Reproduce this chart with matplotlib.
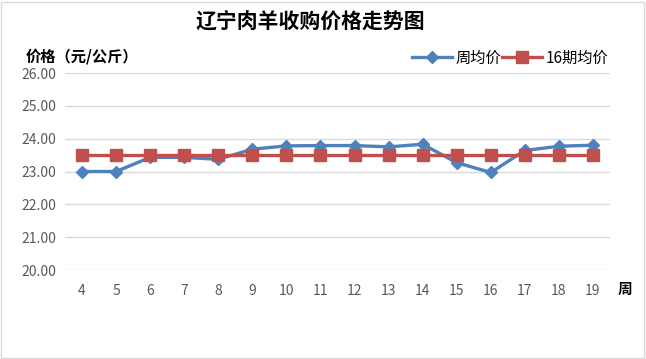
import matplotlib
matplotlib.use("Agg")
import matplotlib.pyplot as plt
from matplotlib.patches import Rectangle

plt.rcParams['font.family'] = ['Noto Sans CJK SC', 'DejaVu Sans']

# data
weeks = [4, 5, 6, 7, 8, 9, 10, 11, 12, 13, 14, 15, 16, 17, 18, 19]
weekly_avg = [23.00, 23.00, 23.43, 23.43, 23.37, 23.68, 23.78, 23.79, 23.79, 23.75,
              23.83, 23.27, 22.97, 23.64, 23.77, 23.80]
avg_16 = [23.51] * 16
yticks = [20, 21, 22, 23, 24, 25, 26]

BLUE = "#4F81BD"
RED = "#C0504D"
GREY = "#595959"

fig = plt.figure(figsize=(6.46, 3.59), dpi=100)
ax = fig.add_axes([65 / 646, 1 - 270 / 359, (610 - 65) / 646, (270 - 73) / 359])

xpos = list(range(len(weeks)))
ax.plot(xpos, weekly_avg, color=BLUE, lw=2.4, marker="D", ms=6.5,
        mfc=BLUE, mec=BLUE, label="周均价", zorder=3)
ax.plot(xpos, avg_16, color=RED, lw=2.4, marker="s", ms=8.5,
        mfc=RED, mec=RED, label="16期均价", zorder=4)

ax.set_xlim(-0.5, len(weeks) - 0.5)
ax.set_ylim(20, 26)
ax.set_yticks(yticks)
ax.set_yticklabels([f"{v:.2f}" for v in yticks])
ax.set_xticks(xpos)
ax.set_xticklabels([str(w) for w in weeks])
ax.tick_params(axis="both", length=0, labelsize=10, colors=GREY)
ax.tick_params(axis="x", pad=10)
ax.tick_params(axis="y", pad=6)
ax.grid(axis="y", color="#D9D9D9", lw=1)
ax.set_axisbelow(True)
for s in ax.spines.values():
    s.set_visible(False)

fig.text(310 / 646, 1 - 22 / 359, "辽宁肉羊收购价格走势图", ha="center", va="center",
         fontsize=15, fontweight="bold", color="#000000")
fig.text(26 / 646, 1 - 57 / 359, "价格（元/公斤）", ha="left", va="center",
         fontsize=11, fontweight="bold", color="#000000")
fig.text(625 / 646, 1 - 289 / 359, "周", ha="center", va="center",
         fontsize=10.5, fontweight="bold", color="#000000")

ax.legend(loc="center right", bbox_to_anchor=(608 / 646, 1 - 58 / 359),
          bbox_transform=fig.transFigure, ncol=2, frameon=False,
          fontsize=11, handlelength=2.6, columnspacing=0.1, handletextpad=0.2,
          borderaxespad=0, borderpad=0)

fig.add_artist(Rectangle((0.002, 0.003), 0.995, 0.992, transform=fig.transFigure,
                         fill=False, ec="#D9D9D9", lw=1))

fig.savefig("out.png", dpi=100)
